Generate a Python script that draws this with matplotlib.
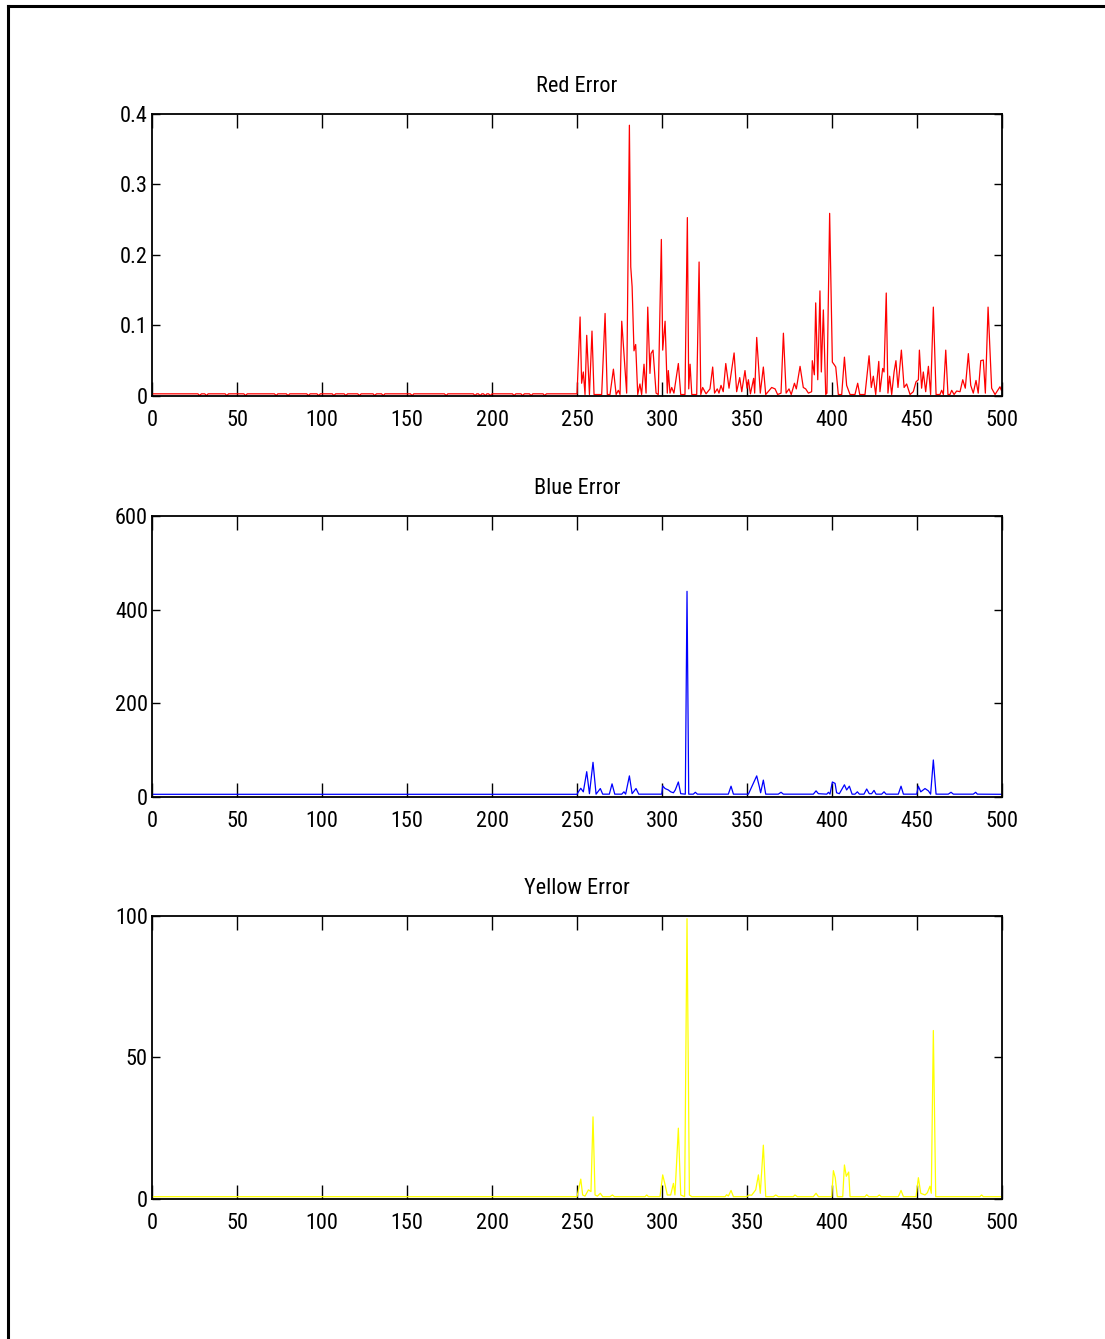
import matplotlib
matplotlib.use("Agg")
import matplotlib.pyplot as plt
from matplotlib.lines import Line2D

plt.rcParams['font.family'] = ['Roboto Condensed', 'Liberation Sans', 'DejaVu Sans']
plt.rcParams['font.stretch'] = 'condensed'

# error signals, first 250 samples are flat
red_base = 0.003
red_dips = [28, 32, 44, 55, 73, 80, 92, 98, 107, 114, 122, 131, 136, 153,
            173, 190, 193, 196, 199, 213, 218, 223, 231]

red_x = [250, 251.8, 252.7, 253.7, 254.7, 255.7, 257.3, 258.8, 260, 264.5, 266.5,
         267.8, 269.4, 271.4, 273, 274.3, 275.3, 276.3, 279.2, 280.8, 281.6, 282.4,
         283.5, 284.5, 285.7, 287, 288, 289.4, 290.6, 291.6, 292.9, 293.5, 294.7,
         296.5, 297.8, 299.6, 300.4, 301.8, 303.1, 303.7, 304.7, 305.7, 307, 309.6,
         311, 313.5, 314.9, 315.7, 316.5, 317.5, 320.4, 321.8, 322.8, 323.9, 325.9,
         328.2, 329.8, 330.9, 332.5, 333.5, 334.7, 336, 337.5, 339.4, 342.4, 343.9,
         345.7, 346.9, 348.8, 350, 350.8, 352, 353.9, 354.5, 355.7, 357.8, 359.6,
         361, 364.5, 366.5, 368, 370, 371.4, 373, 374.7, 376, 377.9, 379, 381.2,
         383.1, 384.5, 386.1, 388, 388.4, 389.6, 390.4, 391.6, 392.9, 393.7, 394.9,
         396.3, 397, 398.6, 400.2, 401.4, 402.2, 403.7, 405.7, 407.3, 408.6, 410.6,
         413.5, 415.1, 416.3, 419.4, 421.8, 423.1, 424.3, 425.7, 427.5, 428.2, 429.8,
         430.6, 431.9, 432.9, 433.9, 435.1, 436.5, 437.6, 438.8, 440.8, 442.4, 443.9,
         445.9, 447.8, 449.4, 450.8, 451.4, 452.7, 453.7, 455.1, 456.7, 458, 459.6,
         461.2, 463.5, 464.5, 465.5, 466.9, 468.2, 469.4, 470.4, 471.8, 473.3, 475.3,
         476.9, 478.4, 480.2, 481.6, 483.1, 484.7, 486, 487.5, 489, 490.2, 491.8,
         492.9, 493.9, 495.9, 497.5, 498.8, 499.6, 500]
red_y = [0.003, 0.112, 0.018, 0.034, 0.002, 0.086, 0.002, 0.092, 0.002, 0.002, 0.117,
         0.002, 0.002, 0.038, 0.002, 0.008, 0.002, 0.106, 0.004, 0.384, 0.183, 0.155,
         0.064, 0.073, 0.002, 0.017, 0.002, 0.045, 0.004, 0.126, 0.032, 0.060, 0.065,
         0.004, 0.002, 0.222, 0.065, 0.106, 0.004, 0.036, 0.004, 0.012, 0.004, 0.046,
         0.002, 0.002, 0.253, 0.010, 0.045, 0.002, 0.002, 0.190, 0.002, 0.012, 0.003,
         0.010, 0.041, 0.004, 0.010, 0.004, 0.015, 0.006, 0.046, 0.011, 0.061, 0.006,
         0.026, 0.006, 0.036, 0.011, 0.023, 0.003, 0.025, 0.004, 0.083, 0.004, 0.041,
         0.002, 0.012, 0.010, 0.002, 0.004, 0.089, 0.004, 0.010, 0.002, 0.018, 0.010,
         0.042, 0.012, 0.010, 0.004, 0.006, 0.050, 0.030, 0.132, 0.023, 0.149, 0.034,
         0.122, 0.002, 0.004, 0.259, 0.048, 0.044, 0.041, 0.002, 0.002, 0.055, 0.015,
         0.002, 0.002, 0.018, 0.002, 0.002, 0.057, 0.012, 0.028, 0.002, 0.049, 0.006,
         0.039, 0.034, 0.146, 0.004, 0.028, 0.002, 0.034, 0.050, 0.012, 0.065, 0.012,
         0.017, 0.002, 0.006, 0.020, 0.023, 0.065, 0.011, 0.034, 0.006, 0.042, 0.002,
         0.126, 0.002, 0.002, 0.008, 0.002, 0.065, 0.002, 0.002, 0.008, 0.002, 0.007,
         0.006, 0.023, 0.011, 0.060, 0.015, 0.004, 0.022, 0.004, 0.050, 0.051, 0.004,
         0.126, 0.065, 0.011, 0.002, 0.008, 0.013, 0.008, 0.014]

blue_base = 5.7
blue_x = [250, 250.8, 252.2, 253.7, 255.7, 257.3, 259.4, 261.2, 263.7, 265.1, 269,
          270.6, 272.2, 276.3, 277.6, 278.6, 280.8, 282.4, 284.7, 286.3, 299.8, 300.4,
          301.8, 303.7, 305.1, 306.7, 307.8, 309.6, 311, 313.7, 314.7, 315.7, 318.4,
          319.6, 320.8, 339, 340.6, 342, 350.8, 352.7, 355.7, 357.3, 358, 359.6, 361,
          368.4, 370, 371.4, 389, 390.6, 392, 396.9, 397.9, 398.8, 400.2, 401.8, 402.7,
          404.3, 407.3, 408.6, 410.2, 411.8, 413.5, 414.9, 416.1, 418.8, 420.4, 421.9,
          423.3, 424.7, 425.9, 429.2, 430.6, 431.8, 439, 440.6, 442, 449.8, 450.8,
          452.2, 454.7, 456.7, 458, 459.6, 461.2, 468.4, 470, 471.4, 483.1, 484.5,
          485.5, 500]
blue_y = [5.7, 11, 18.5, 11, 54, 7, 74, 6, 18, 6, 6, 28, 6, 6, 11, 6, 45, 7, 18, 6,
          6, 23.5, 18, 15, 11, 9, 15, 32, 7, 6, 439, 6, 6, 10, 6, 6, 23, 6, 6, 21, 45,
          21, 9, 36, 6, 6, 10, 6, 6, 13, 7, 6, 10, 6, 32, 29, 9, 7, 26, 15, 23, 6, 6,
          11, 6, 6, 17, 7, 7, 14, 6, 6, 11, 6, 6, 23, 6, 6, 23, 11, 18, 13, 6, 79, 6,
          6, 10, 6, 6, 10, 6, 5.7]

yellow_base = 0.8
yellow_x = [250, 252.2, 253.3, 254.7, 256.7, 258.2, 259.4, 260.6, 262, 263.7, 265.1,
            269.4, 270.8, 272, 290, 291, 292, 298.8, 300.4, 301.8, 303.1, 305.1, 306.7,
            307.6, 309.6, 311, 313.3, 314.7, 316.1, 317.5, 337.1, 338, 339, 340.6, 342,
            349.8, 351.2, 352.7, 355.1, 356.7, 357.8, 359.6, 361, 365.5, 366.9, 368.4,
            377.2, 378.2, 379.6, 389, 390.6, 392, 399.8, 400.8, 401.9, 403.1, 406.3,
            407.3, 408.4, 409.8, 410.6, 419.4, 420.4, 421.6, 426.7, 427.8, 429, 439,
            440.6, 442, 449.4, 450.8, 452.2, 454.7, 456.1, 457.6, 458.4, 459.6, 461,
            487, 488, 489, 500]
yellow_y = [0.8, 7, 1.4, 1.0, 3.2, 2.6, 29, 1.4, 1.0, 2.0, 0.8, 0.8, 1.4, 0.8, 0.8,
            1.4, 0.8, 0.8, 8.5, 5.0, 1.4, 1.4, 5.5, 1.4, 25, 1.4, 0.8, 99, 1.4, 0.8,
            0.8, 1.5, 1.0, 3.0, 0.8, 0.8, 1.4, 1.3, 3.2, 8.5, 2.0, 19, 0.8, 0.8, 1.4,
            0.8, 0.8, 1.4, 0.8, 0.8, 2.0, 0.8, 0.8, 10, 7.5, 0.8, 0.8, 12, 8.0, 9.5,
            0.8, 0.8, 1.5, 0.8, 0.8, 1.4, 0.8, 0.8, 3.0, 0.8, 0.8, 7.5, 2.0, 1.4, 2.2,
            4.5, 2.0, 59.5, 0.8, 0.8, 1.4, 0.8, 0.8]

x_ticks = [0, 50, 100, 150, 200, 250, 300, 350, 400, 450, 500]


def flat_part(base, dips=(), dip_value=0.0005):
    xs = list(range(0, 250))
    ys = [dip_value if i in dips else base for i in xs]
    return xs, ys


fig = plt.figure(figsize=(11.05, 13.39), dpi=100)

# outer frame lines (left and top)
fig.add_artist(Line2D([0.0076, 0.0076], [0.0, 0.9955], transform=fig.transFigure,
                      color='black', lw=2.2))
fig.add_artist(Line2D([0.0076, 1.0], [0.9955, 0.9955], transform=fig.transFigure,
                      color='black', lw=2.2))

panels = [
    ("Red Error", 'red', red_base, red_dips, red_x, red_y,
     [0.1376, 0.7043, 0.7692, 0.2106], (0, 0.4), [0, 0.1, 0.2, 0.3, 0.4],
     ['0', '0.1', '0.2', '0.3', '0.4']),
    ("Blue Error", 'blue', blue_base, (), blue_x, blue_y,
     [0.1376, 0.4048, 0.7692, 0.2099], (0, 600), [0, 200, 400, 600],
     ['0', '200', '400', '600']),
    ("Yellow Error", 'yellow', yellow_base, (), yellow_x, yellow_y,
     [0.1376, 0.1046, 0.7692, 0.2114], (0, 100), [0, 50, 100],
     ['0', '50', '100']),
]

for title, color, base, dips, xs, ys, rect, ylim, yt, ytl in panels:
    ax = fig.add_axes(rect)
    fx, fy = flat_part(base, dips)
    ax.plot(fx + xs, fy + ys, color=color, lw=0.9)
    ax.set_xlim(0, 500)
    ax.set_ylim(*ylim)
    ax.set_xticks(x_ticks)
    ax.set_xticklabels([str(t) for t in x_ticks])
    ax.set_yticks(yt)
    ax.set_yticklabels(ytl)
    ax.tick_params(axis='x', direction='in', top=True, length=10, width=1.0,
                   pad=10, labelsize=16)
    ax.tick_params(axis='y', direction='in', right=True, length=6, width=1.0,
                   pad=3, labelsize=16)
    for s in ax.spines.values():
        s.set_linewidth(1.3)
    ax.set_title(title, fontsize=16, pad=16)

fig.savefig("out.png", dpi=100)
